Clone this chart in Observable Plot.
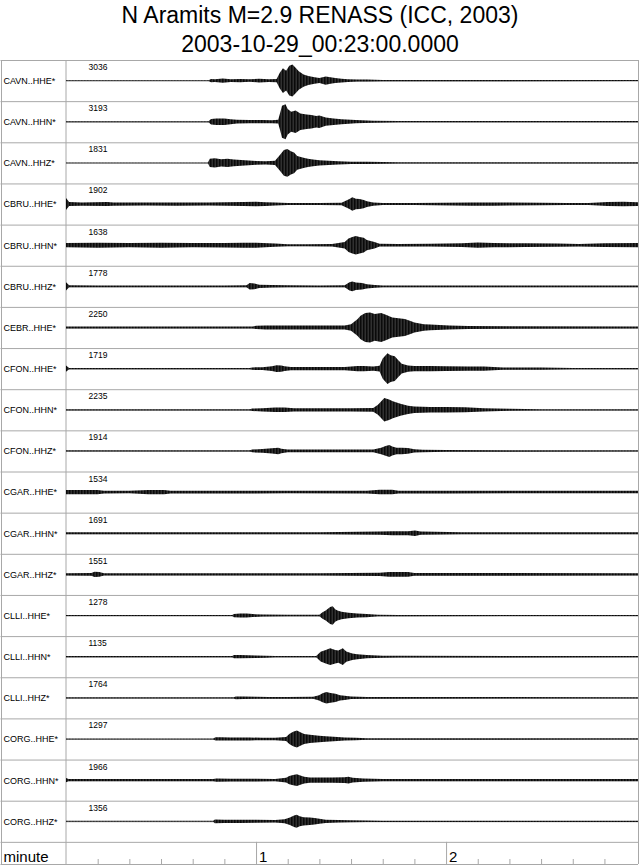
<!DOCTYPE html>
<html>
<head>
<meta charset="utf-8">
<script src="https://cdn.jsdelivr.net/npm/d3@7"></script>
<script src="https://cdn.jsdelivr.net/npm/@observablehq/plot@0.6"></script>
<style>
body { margin: 0; background: #fff; font-family: "Liberation Sans", Arial, sans-serif; }
.t1 { height: 30px; line-height: 30px; font-size: 23px; text-align: center; }
.t2 { height: 29px; line-height: 29px; font-size: 23px; text-align: center; }
</style>
</head>
<body>
<div class="t1">N Aramits M=2.9 RENASS (ICC, 2003)</div>
<div class="t2">2003-10-29_00:23:00.0000</div>
<div id="chart"></div>
<script>
// channels, top to bottom
const channels = [
  "CAVN..HHE*", "CAVN..HHN*", "CAVN..HHZ*",
  "CBRU..HHE*", "CBRU..HHN*", "CBRU..HHZ*",
  "CEBR..HHE*",
  "CFON..HHE*", "CFON..HHN*", "CFON..HHZ*",
  "CGAR..HHE*", "CGAR..HHN*", "CGAR..HHZ*",
  "CLLI..HHE*", "CLLI..HHN*", "CLLI..HHZ*",
  "CORG..HHE*", "CORG..HHN*", "CORG..HHZ*"
]
// max counts printed above each trace
const maxCounts = [3036, 3193, 1831, 1902, 1638, 1778, 2250, 1719, 2235, 1914,
  1534, 1691, 1551, 1278, 1135, 1764, 1297, 1966, 1356]

// envelope of each trace: [seconds after 00:23:00, half amplitude in % of half a row]
const cavnHHE = [[0,2],[45,2],[45.8,8],[47,7],[49.5,10],[52,7],[55,8],[58,6],[61,9],[64,7],[66.5,8],[67.5,38],[68.5,60],[69.5,48],[70.5,72],[71.5,78],[72.5,62],[73.5,45],[75,30],[76.5,22],[78.5,16],[80,12],[82,20],[83.5,16],[85,12],[87,9],[89,7],[92,5],[95,5],[100,3],[110,3],[180.6,2.5]]
const cavnHHN = [[0,2],[45,2],[45.8,13],[47.5,16],[50,16],[52,12],[54,9],[58,8],[62,8],[65,7],[67,9],[67.6,42],[68.2,78],[69.3,85],[70,62],[71.1,49],[72.5,55],[74,40],[76,35],[77.5,33],[79,28],[80,30],[82,20],[84.5,16],[87,12],[91.5,8],[97,5],[105,3],[180.6,3]]
const cavnHHZ = [[0,2],[44.8,2],[45.4,20],[47,22],[49,18],[51,20],[53,16],[56.5,13],[60,9],[63,8],[66,10],[67.6,40],[68.8,62],[69.9,68],[71,57],[72,50],[73,33],[75,25],[76.4,20],[78,16],[80,13],[83,10],[86,8],[90,6],[95,5],[105,3],[180.6,3]]
const cbruHHE = [[0,29],[1,10],[5,8],[13,10],[15,8],[25,7],[35,8],[45,7],[56,10],[60,11],[63,9],[66,7],[70,5],[80,5],[87,6],[89.5,24],[90.4,33],[91.5,26],[92.7,24],[94,20],[95,14],[97,8],[100,5],[110,5],[128,8],[135,8],[140,7],[150,6],[158,5],[165,5],[171,10],[176,11],[180.6,9]]
const cbruHHN = [[0,10],[10,12],[20,10],[30,12],[40,10],[50,11],[56,12],[60,12],[66,8],[70,5],[76,5],[84,6],[88,16],[89.2,33],[90.4,40],[91.5,45],[92.7,40],[94,36],[95,25],[97.4,16],[99,7],[105,6],[115,7],[125,9],[130,13],[135,10],[145,9],[155,8],[162,6],[170,9],[180.6,10]]
const cbruHHZ = [[0,20],[1,5],[10,4],[30,4],[50,4],[57,5],[58,16],[59.5,14],[61,8],[65,6],[70,5],[80,4],[88,5],[89.5,20],[90.4,24],[91.5,18],[93.5,16],[95,10],[97.5,7],[100,4],[180.6,4]]
const cebrHHE = [[0,5],[30,5],[59,5],[60,8],[63,10],[70,10],[80,10],[88,10],[90,16],[92,40],[93,57],[94.5,70],[96,73],[97.5,65],[99.5,70],[101,62],[103,49],[105,45],[107,41],[109,30],[110,24],[113,16],[115,14],[121,10],[127,7],[140,6],[180.6,5]]
const cfonHHE = [[0,15],[1,2.5],[30,2.5],[58,2.5],[58.8,6],[62,7],[65,12],[66.5,16],[68,15],[69,12],[71,8],[80,8],[88,8],[92,13],[94,13],[97,10],[99,14],[100,49],[101.5,75],[102.5,65],[103.8,60],[105,40],[106,24],[108,15],[110,13],[115,13],[120,12],[127,10],[132,10],[138,6],[150,5],[160,3],[180.6,3]]
const cfonHHN = [[0,3],[58,3],[58.8,6],[62,8],[66,11],[69,11],[72,8],[80,8],[90,8],[97,9],[98.5,24],[100.5,57],[102,50],[103.2,41],[105.6,29],[108,20],[110,16],[115,13],[120,13],[126,12],[132,8],[140,5],[150,3],[180.6,3]]
const cfonHHZ = [[0,3],[58,3],[58.8,7],[62,9],[65,13],[67,16],[68,11],[70,7],[80,7],[90,7],[97,7],[99.5,16],[100.9,24],[102.1,29],[103,22],[104.4,16],[106,16],[107.9,14],[110,8],[112.6,6],[120,4],[180.6,3]]
const cgarHHE = [[0,10],[10,10],[12,7],[20,6],[26,10],[31,10],[33,7],[50,7],[70,6],[95,7],[99,11],[103,11],[105,7],[120,7],[140,6],[180.6,6]]
const cgarHHN = [[0,5],[50,5],[80,5],[99,8],[103,10],[108,10],[110.2,13],[112,8],[125,5],[180.6,5]]
const cgarHHZ = [[0,6],[8,7],[9,13],[10.5,11],[12,6],[50,6],[80,6],[99,8],[102,11],[108,11],[110,7],[180.6,6]]
const clliHHE = [[0,2.5],[52.5,2.5],[53,8],[55,10],[57,10],[59,7],[62,5],[70,4],[80,4],[81,16],[82,24],[83.4,41],[84.2,45],[85,30],[85.7,24],[87,18],[89.2,13],[92,10],[95,8],[98.5,4],[105,3],[180.6,2.5]]
const clliHHN = [[0,3],[52.5,3],[53,8],[55,8],[60,6],[63,5],[66,3],[79,3],[80.4,24],[82,33],[83.4,41],[85,33],[86,30],[87.4,41],[88.5,25],[90.4,16],[92,12],[95,8],[100,5],[105,4],[180.6,3]]
const clliHHZ = [[0,3],[53,3],[53.6,7],[56,6],[60,5],[64,4],[70,4],[78,5],[79.9,13],[81,22],[82.2,28],[83.5,24],[85.1,20],[86.5,13],[88,10],[90,6],[95,4],[180.6,3]]
const corgHHE = [[0,2.5],[46.5,2.5],[47.2,8],[49,8],[52,7],[58,7],[62,6],[66,6],[69.5,10],[70.5,24],[71.7,35],[72.9,41],[74,33],[75.2,24],[77,20],[79.9,16],[82,13],[85.7,10],[88,7],[91.5,6],[95,4],[180.6,3]]
const corgHHN = [[0,10],[0.8,5],[10,5],[46.5,5],[47.5,8],[52,7],[60,7],[66,6],[69.5,12],[70.5,20],[71.7,25],[72.9,29],[74,22],[75.2,16],[77,13],[80,13],[84,13],[88,14],[89.2,16],[90.5,12],[93.9,8],[100,5],[180.6,5]]
const corgHHZ = [[0,2.5],[46.5,2.5],[47,9],[50,8],[55,8],[60,7],[66,6],[69,10],[70.7,18],[72,28],[72.8,32],[73.8,24],[75,20],[77,18],[78.5,16],[80,12],[82,8],[86,6],[89.6,5],[95,4],[100,3],[180.6,3]]

const envelopes = [cavnHHE, cavnHHN, cavnHHZ, cbruHHE, cbruHHN, cbruHHZ, cebrHHE,
  cfonHHE, cfonHHN, cfonHHZ, cgarHHE, cgarHHN, cgarHHZ, clliHHE, clliHHN, clliHHZ,
  corgHHE, corgHHN, corgHHZ]

const minuteTicks = [60, 120]
const tenSecTicks = d3.range(10, 180, 10).filter(d => d % 60 != 0)

// layout
const W = 640, H = 806, ML = 66, MR = 2, MT = 1, MB = 1
const T = 180.6
const rowPx = 41.15
const pxPerSec = (W - ML - MR) / T
const yMax = (H - MT - MB) / rowPx
const secAt = px => (px - ML) / pxPerSec

const table = []
envelopes.forEach((env, i) => {
  env.forEach(([t, a]) => {
    table.push({trace: channels[i], t, lo: i + 0.5 + a / 200, hi: i + 0.5 - a / 200})
  })
})
const rows = channels.map((c, i) => ({name: c, row: i, count: maxCounts[i]}))

// fine vertical hatching, so the envelopes read like dense wiggles
function wiggleDefs() {
  const defs = d3.create("svg:defs")
  const p = defs.append("pattern").attr("id", "wiggle")
    .attr("patternUnits", "userSpaceOnUse").attr("width", 1.5).attr("height", 4)
  p.append("rect").attr("width", 1.5).attr("height", 4).attr("fill", "#484848")
  p.append("rect").attr("width", 0.9).attr("height", 4).attr("fill", "#000")
  return defs.node()
}

const grey = "#a8a8a8"
const chart = Plot.plot({
  width: W,
  height: H,
  marginLeft: ML,
  marginRight: MR,
  marginTop: MT,
  marginBottom: MB,
  x: {domain: [0, T], axis: null},
  y: {domain: [0, yMax], reverse: true, axis: null},
  style: {fontFamily: "'Liberation Sans', Arial, sans-serif", background: "white", overflow: "visible"},
  marks: [
    wiggleDefs,
    // row separators and frame
    Plot.ruleY(d3.range(0, 20), {x1: secAt(0.5), x2: T, stroke: grey}),
    Plot.ruleY([yMax], {x1: secAt(0.5), x2: T, stroke: grey}),
    Plot.ruleX([secAt(1), secAt(65.5), T], {y1: 0, y2: yMax, stroke: grey}),
    // trace baselines
    Plot.ruleY(rows, {y: d => d.row + 0.5, x1: 0, x2: T, stroke: "#666", strokeWidth: 0.6}),
    // waveform envelopes
    Plot.areaY(table, {x: "t", y1: "lo", y2: "hi", z: "trace", fill: "url(#wiggle)", curve: "linear"}),
    // labels
    Plot.text(rows, {y: d => d.row + 0.5, frameAnchor: "left", dx: -63, text: "name",
      textAnchor: "start", fontSize: 9, fill: "black"}),
    Plot.text(rows, {y: d => d.row + 9.5 / rowPx, frameAnchor: "left", dx: 22, text: d => String(d.count),
      textAnchor: "start", lineAnchor: "bottom", fontSize: 8.5, fill: "black"}),
    // time axis
    Plot.ruleX(minuteTicks, {y1: 19, y2: yMax, stroke: grey}),
    Plot.ruleX(tenSecTicks, {y1: yMax - 5 / rowPx, y2: yMax, stroke: grey}),
    Plot.text(minuteTicks, {x: d => d, y: yMax, text: d => String(d / 60), dx: 2.5, dy: -3,
      textAnchor: "start", lineAnchor: "bottom", fontSize: 15, fill: "black"}),
    Plot.text(["minute"], {frameAnchor: "bottom-left", dx: -63, dy: -3, text: d => d,
      textAnchor: "start", lineAnchor: "bottom", fontSize: 15, fill: "black"})
  ]
})

d3.select("#chart").append(() => chart)
</script>
</body>
</html>
